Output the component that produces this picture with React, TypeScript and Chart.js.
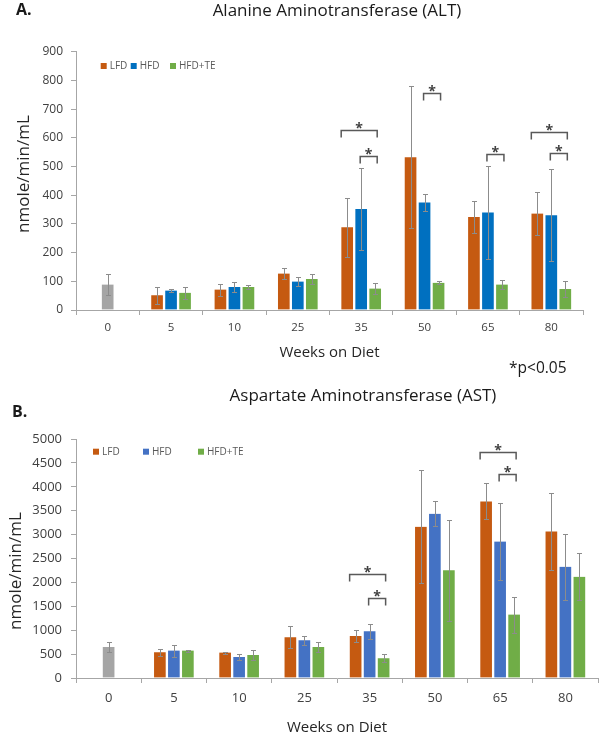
import React, { useEffect, useRef } from "react";
import { Chart, registerables } from "chart.js";

Chart.register(...registerables);

const FONT = "'Open Sans', 'DejaVu Sans', sans-serif";

// ---------- shared ----------
const weeks = ["0", "5", "10", "25", "35", "50", "65", "80"];
const seriesNames = ["Baseline", "LFD", "HFD", "HFD+TE"];
const yTitle = "nmole/min/mL";
const xTitle = "Weeks on Diet";

// ---------- A. ALT (nmole/min/mL) ----------
const altBaseline = [89, null, null, null, null, null, null, null];
const altBaselineErr = [35, null, null, null, null, null, null, null];
const altLFD = [null, 51, 71, 127, 288, 532, 324, 336];
const altLFDErr = [null, 30, 21, 20, 102, 248, 55, 74];
const altHFD = [null, 68, 80, 99, 352, 375, 340, 330];
const altHFDErr = [null, 6, 19, 17, 142, 29, 163, 160];
const altTE = [null, 60, 80, 108, 75, 95, 89, 73];
const altTEErr = [null, 21, 7, 17, 20, 6, 17, 29];
const altYTicks = { min: 0, max: 900, step: 100 };
// significance brackets: category index, from series, to series, bracket height (value)
const altBracketWeek = [4, 4, 5, 6, 7, 7];
const altBracketFrom = [1, 2, 2, 2, 1, 2];
const altBracketTo = [3, 3, 3, 3, 3, 3];
const altBracketValue = [627, 538, 757, 542, 621, 546];

// ---------- B. AST (nmole/min/mL) ----------
const astBaseline = [649, null, null, null, null, null, null, null];
const astBaselineErr = [105, null, null, null, null, null, null, null];
const astLFD = [null, 538, 531, 852, 880, 3164, 3694, 3066];
const astLFDErr = [null, 70, 21, 230, 133, 1180, 377, 803];
const astHFD = [null, 573, 440, 789, 978, 3436, 2856, 2325];
const astHFDErr = [null, 125, 56, 98, 160, 258, 810, 692];
const astTE = [null, 573, 482, 649, 412, 2256, 1327, 2116];
const astTEErr = [null, 21, 112, 105, 84, 1054, 377, 489];
const astYTicks = { min: 0, max: 5000, step: 500 };
const astBracketWeek = [4, 4, 6, 6];
const astBracketFrom = [1, 2, 1, 2];
const astBracketTo = [3, 3, 3, 3];
const astBracketValue = [2172, 1676, 4735, 4260];

// ---------- styling ----------
const GRAY = "#A5A5A5";
const ORANGE = "#C55A11";
const BLUE_A = "#0070C0";
const BLUE_B = "#4472C4";
const GREEN = "#70AD47";
const AXIS = "#A6A6A6";
const TICK_TEXT = "#404040";

type Panel = {
  values: (number | null)[][];
  errors: (number | null)[][];
  colors: string[];
  yTicks: { min: number; max: number; step: number };
  bracketWeek: number[];
  bracketFrom: number[];
  bracketTo: number[];
  bracketValue: number[];
  width: number;
  height: number;
  padTop: number;
  padRight: number;
  xAxisHeight: number;
  tickFont: number;
  xTickFont: number;
  xTickPad: number;
  yTickPad: number;
  yTitleX: number;
  yTitleY: number;
  legendOffsets: number[];
  legendTop: number;
};

function makeDecorPlugin(p: Panel) {
  return {
    id: "decor",
    afterDatasetsDraw(chart: any) {
      const { ctx, chartArea } = chart;
      const ys = chart.scales.y;
      ctx.save();
      // error bars
      ctx.strokeStyle = "#8C8C8C";
      ctx.lineWidth = 1;
      p.errors.forEach((errs, di) => {
        const meta = chart.getDatasetMeta(di);
        const data = p.values[di];
        meta.data.forEach((el: any, i: number) => {
          const v = data[i];
          const e = errs[i];
          if (v == null || e == null) return;
          const x = Math.round(el.x) + 0.5;
          const yh = Math.round(ys.getPixelForValue(v + e)) + 0.5;
          const yl = Math.round(ys.getPixelForValue(Math.max(0, v - e))) + 0.5;
          ctx.beginPath();
          ctx.moveTo(x, yh);
          ctx.lineTo(x, yl);
          ctx.moveTo(x - 2.5, yh);
          ctx.lineTo(x + 2.5, yh);
          ctx.moveTo(x - 2.5, yl);
          ctx.lineTo(x + 2.5, yl);
          ctx.stroke();
        });
      });
      // significance brackets
      ctx.strokeStyle = "#595959";
      ctx.lineWidth = 1.5;
      ctx.fillStyle = "#404040";
      ctx.font = `bold 14px ${FONT}`;
      ctx.textAlign = "center";
      ctx.textBaseline = "alphabetic";
      p.bracketWeek.forEach((w, k) => {
        const a = chart.getDatasetMeta(p.bracketFrom[k]).data[w];
        const b = chart.getDatasetMeta(p.bracketTo[k]).data[w];
        const half = a.width / 2;
        const x1 = p.bracketFrom[k] === 1 ? a.x - half + 1 : a.x - 1;
        const x2 = b.x + 2;
        const y = Math.round(ys.getPixelForValue(p.bracketValue[k])) + 0.5;
        ctx.beginPath();
        ctx.moveTo(x1, y + 7);
        ctx.lineTo(x1, y);
        ctx.lineTo(x2, y);
        ctx.lineTo(x2, y + 7);
        ctx.stroke();
        ctx.fillText("*", (x1 + x2) / 2, y - 7 + 9.5);
      });
      // legend (series 1..3)
      ctx.font = `10px ${FONT}`;
      ctx.textAlign = "left";
      ctx.textBaseline = "middle";
      p.legendOffsets.forEach((off, k) => {
        const di = k + 1;
        const x = chartArea.left + off;
        const y = chartArea.top + p.legendTop;
        ctx.fillStyle = p.colors[di];
        ctx.fillRect(x, y - 3, 6, 6);
        ctx.fillStyle = "#595959";
        ctx.fillText(seriesNames[di], x + 9, y + 0.5);
      });
      // y-axis title
      ctx.translate(p.yTitleX, p.yTitleY);
      ctx.rotate(-Math.PI / 2);
      ctx.font = `17px ${FONT}`;
      ctx.fillStyle = "#262626";
      ctx.textAlign = "center";
      ctx.textBaseline = "middle";
      ctx.fillText(yTitle, 0, 0);
      ctx.restore();
    },
  };
}

function makeConfig(p: Panel): any {
  return {
    type: "bar",
    data: {
      labels: weeks,
      datasets: p.values.map((vals, i) => ({
        label: seriesNames[i],
        data: vals,
        backgroundColor: p.colors[i],
        borderColor: "#FFFFFF",
        borderWidth: { left: 1.5, right: 1.5, top: 0, bottom: 0 },
        borderSkipped: false,
        barThickness: 14,
        skipNull: true,
      })),
    },
    plugins: [makeDecorPlugin(p)],
    options: {
      animation: false,
      responsive: false,
      events: [],
      layout: { padding: { top: p.padTop, right: p.padRight, left: 0, bottom: 0 } },
      plugins: {
        legend: { display: false },
        title: { display: false },
        tooltip: { enabled: false },
      },
      scales: {
        x: {
          type: "category",
          grid: {
            display: true,
            drawOnChartArea: false,
            drawTicks: true,
            tickLength: 5,
            color: AXIS,
            offset: true,
          },
          border: { display: true, color: AXIS, width: 1 },
          ticks: {
            color: TICK_TEXT,
            font: { family: FONT, size: p.xTickFont },
            padding: p.xTickPad,
            maxRotation: 0,
            autoSkip: false,
          },
          title: {
            display: true,
            text: xTitle,
            color: "#262626",
            font: { family: FONT, size: 15 },
            padding: { top: 0, bottom: 0 },
          },
          afterFit: (s: any) => {
            s.height = p.xAxisHeight;
          },
        },
        y: {
          min: p.yTicks.min,
          max: p.yTicks.max,
          grid: {
            display: true,
            drawOnChartArea: false,
            drawTicks: true,
            tickLength: 5,
            color: AXIS,
          },
          border: { display: true, color: AXIS, width: 1 },
          ticks: {
            stepSize: p.yTicks.step,
            color: TICK_TEXT,
            font: { family: FONT, size: p.tickFont },
            padding: p.yTickPad,
            callback: (v: any) => String(v),
          },
          title: { display: false },
          afterFit: (s: any) => {
            s.width = 76;
          },
        },
      },
    },
  };
}

function BarPanel({ panel, top }: { panel: Panel; top: number }) {
  const ref = useRef<HTMLCanvasElement>(null);
  useEffect(() => {
    if (!ref.current) return;
    const chart = new Chart(ref.current, makeConfig(panel));
    return () => chart.destroy();
  }, []);
  return (
    <canvas
      ref={ref}
      width={panel.width}
      height={panel.height}
      style={{ position: "absolute", left: 0, top, width: panel.width, height: panel.height }}
    />
  );
}

const panelA: Panel = {
  values: [altBaseline, altLFD, altHFD, altTE],
  errors: [altBaselineErr, altLFDErr, altHFDErr, altTEErr],
  colors: [GRAY, ORANGE, BLUE_A, GREEN],
  yTicks: altYTicks,
  bracketWeek: altBracketWeek,
  bracketFrom: altBracketFrom,
  bracketTo: altBracketTo,
  bracketValue: altBracketValue,
  width: 600,
  height: 362,
  padTop: 51.7,
  padRight: 17,
  xAxisHeight: 52,
  tickFont: 12,
  xTickFont: 11.5,
  xTickPad: 6,
  yTickPad: 8,
  yTitleX: 24.5,
  yTitleY: 174,
  legendOffsets: [24.7, 54.7, 94],
  legendTop: 14.3,
};

const panelB: Panel = {
  values: [astBaseline, astLFD, astHFD, astTE],
  errors: [astBaselineErr, astLFDErr, astHFDErr, astTEErr],
  colors: [GRAY, ORANGE, BLUE_B, GREEN],
  yTicks: astYTicks,
  bracketWeek: astBracketWeek,
  bracketFrom: astBracketFrom,
  bracketTo: astBracketTo,
  bracketValue: astBracketValue,
  width: 600,
  height: 372,
  padTop: 74,
  padRight: 2,
  xAxisHeight: 59,
  tickFont: 13,
  xTickFont: 13,
  xTickPad: 7,
  yTickPad: 9,
  yTitleX: 16,
  yTitleY: 206,
  legendOffsets: [17, 67, 122],
  legendTop: 12.7,
};

const textBase: React.CSSProperties = {
  position: "absolute",
  whiteSpace: "nowrap",
  fontFamily: FONT,
  color: "#1a1a1a",
  lineHeight: "20px",
  height: 20,
};

export default function App() {
  return (
    <div
      style={{
        position: "fixed",
        left: 0,
        top: 0,
        width: 600,
        height: 737,
        background: "#FFFFFF",
        overflow: "hidden",
      }}
    >
      <BarPanel panel={panelA} top={0} />
      <BarPanel panel={panelB} top={365} />
      <div style={{ ...textBase, left: 16, top: -1, fontSize: 16, fontWeight: 700 }}>A.</div>
      <div
        style={{ ...textBase, left: 337, top: 0, fontSize: 17, transform: "translateX(-50%)" }}
      >
        Alanine Aminotransferase (ALT)
      </div>
      <div style={{ ...textBase, left: 509, top: 357, fontSize: 15.5 }}>*p&lt;0.05</div>
      <div
        style={{ ...textBase, left: 363, top: 385, fontSize: 17, transform: "translateX(-50%)" }}
      >
        Aspartate Aminotransferase (AST)
      </div>
      <div style={{ ...textBase, left: 12, top: 401, fontSize: 16, fontWeight: 700 }}>B.</div>
    </div>
  );
}
